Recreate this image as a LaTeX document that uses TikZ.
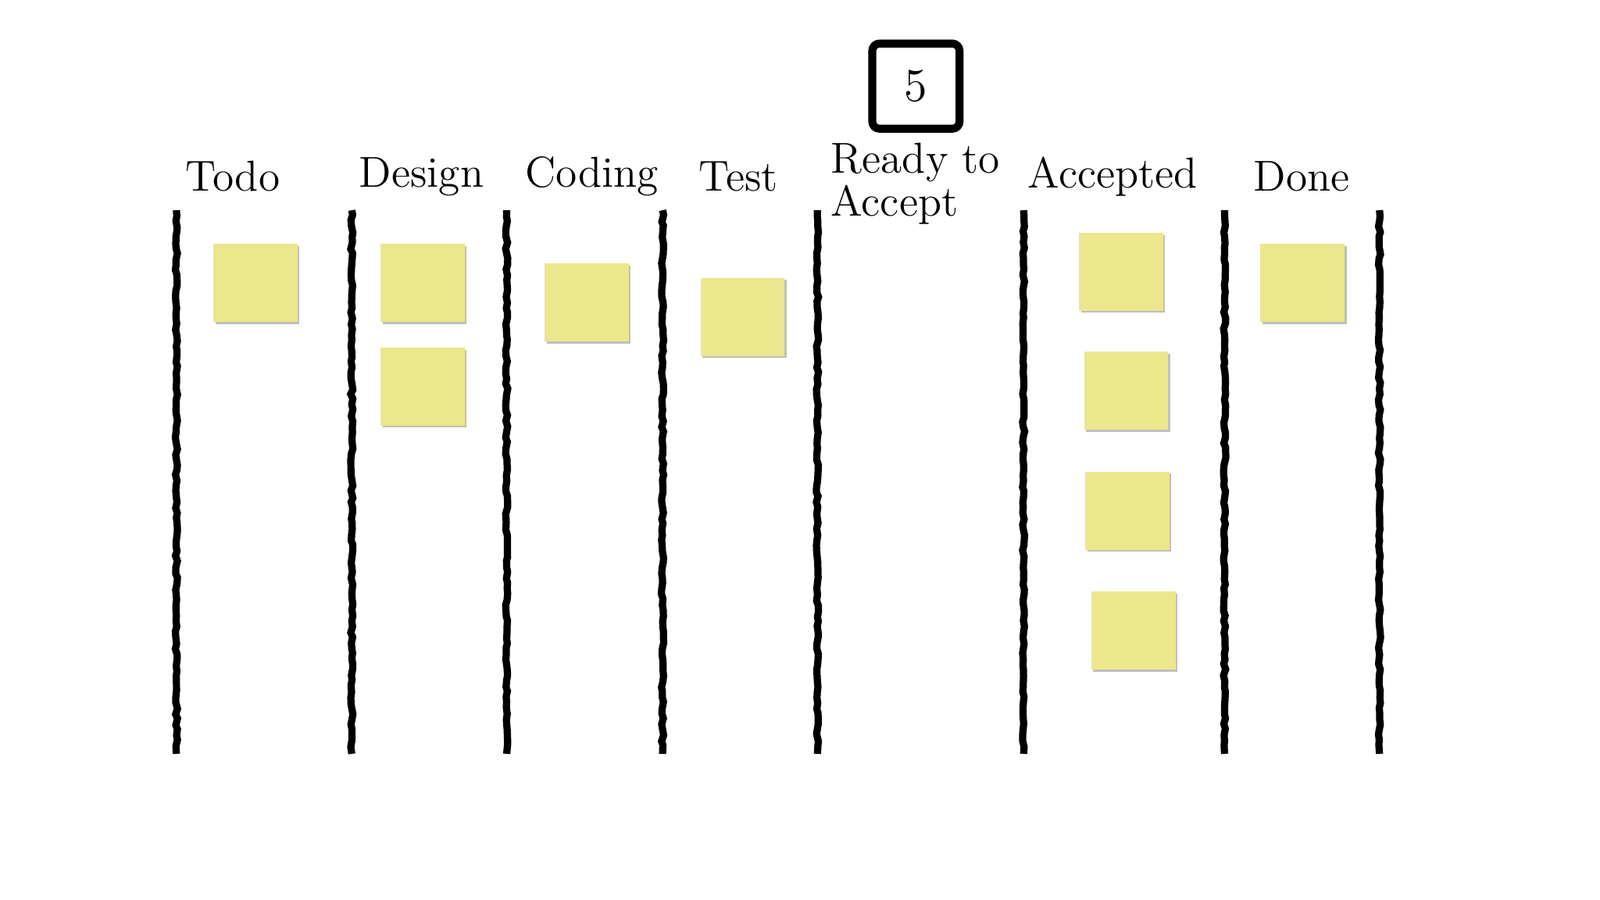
\documentclass[tikz,border=0pt]{standalone}
\usetikzlibrary{decorations.pathmorphing}
\begin{document}
\begin{tikzpicture}[x=0.01cm,y=-0.01cm,
  bar/.style={line width=2pt, black, decorate, decoration={random steps,segment length=1.5pt,amplitude=0.3pt}},
  hdr/.style={font=\fontsize{12}{12}\selectfont, anchor=center, inner sep=1pt}]
\useasboundingbox (0,0) rectangle (1560,877);
\fill[white] (0,0) rectangle (1560,877);
\foreach \x/\n in {172/a,343/b,494/c,646/d,797/e,998/f,1194/g,1345/h}{
  \coordinate (t\n) at (\x,205); \coordinate (b\n) at (\x,735);
  \draw[bar] (t\n) -- (b\n);}
\node[hdr] (h1) at (227,172) {Todo};
\node[hdr] (h2) at (411,172) {Design};
\node[hdr] (h3) at (577,172) {Coding};
\node[hdr] (h4) at (720,172) {Test};
\node[hdr, anchor=north west, align=left] (h5) at (806,135) {Ready to\\Accept};
\node[hdr] (h6) at (1085,172) {Accepted};
\node[hdr] (h7) at (1269,172) {Done};
\node[draw, line width=2.2pt, rounded corners=2pt, minimum width=0.85cm, minimum height=0.83cm, font=\fontsize{13}{13}\selectfont] (wip) at (893,84) {5};
\foreach \x/\y/\n in {249/276/s1,412/276/s2,412/377/s3,572/295/s4,724/309/s5,1093/265/s6,1098/381/s7,1099/498/s8,1105/615/s9,1270/276/s10}{
  \node[fill=black!25, minimum width=0.82cm, minimum height=0.76cm, inner sep=0] (sh\n) at (\x+2,\y+2) {};
  \node[fill={rgb,255:red,236;green,230;blue,140}, minimum width=0.82cm, minimum height=0.76cm, inner sep=0] (\n) at (\x,\y) {};}
\end{tikzpicture}
\end{document}
